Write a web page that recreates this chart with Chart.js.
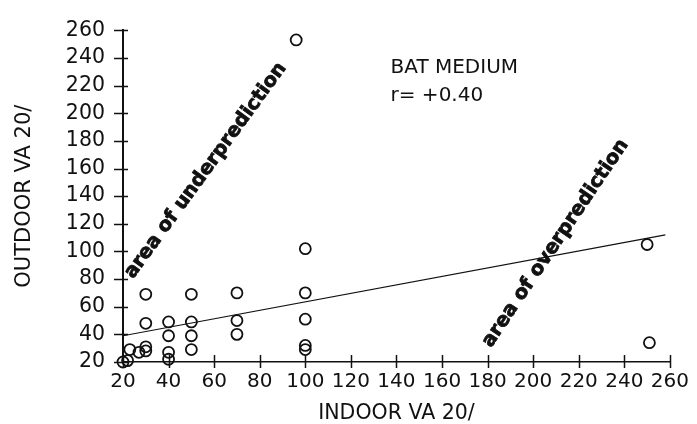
<!DOCTYPE html>
<html>
<head>
<meta charset="utf-8">
<script src="https://cdn.jsdelivr.net/npm/chart.js@4/dist/chart.umd.min.js"></script>
<style>
  html, body { margin: 0; padding: 0; background: #fff; }
  #wrap { width: 697px; height: 424px; position: relative; }
</style>
</head>
<body>
<div id="wrap"><canvas id="c"></canvas></div>
<script>
// Indoor vs outdoor VA 20/ readings (BAT medium)
const indoorVA  = [20, 22, 23, 27, 30, 30, 30, 30, 40, 40, 40, 40, 50, 50, 50, 50, 70, 70, 70, 96, 100, 100, 100, 100, 100, 250, 251];
const outdoorVA = [20, 21, 29, 27, 28, 31, 48, 69, 22, 27, 39, 49, 29, 39, 49, 69, 40, 50, 70, 253, 29, 32, 51, 70, 102, 105, 34];

// Least-squares line end points
const fitIndoor  = [20, 258];
const fitOutdoor = [39, 112];

// Axis tick values (both axes)
const axisTicks = [20, 40, 60, 80, 100, 120, 140, 160, 180, 200, 220, 240, 260];

const xTitle = 'INDOOR VA 20/';
const yTitle = 'OUTDOOR VA 20/';
const panelTitle = 'BAT MEDIUM';
const corrText = 'r= +0.40';
const underText = 'area of underprediction';
const overText = 'area of overprediction';

const FONT = '"DejaVu Sans", sans-serif';
const INK = '#111';

const points = indoorVA.map((x, i) => ({ x, y: outdoorVA[i] }));
const fitLine = fitIndoor.map((x, i) => ({ x, y: fitOutdoor[i] }));

// Tick marks that cross the axis lines
const crossTicks = {
  id: 'crossTicks',
  afterDraw(chart) {
    const { ctx, chartArea: a, scales: { x, y } } = chart;
    ctx.save();
    ctx.strokeStyle = INK;
    ctx.lineWidth = 1.5;
    ctx.beginPath();
    axisTicks.forEach(v => {
      const py = Math.round(y.getPixelForValue(v)) + 0.5;
      ctx.moveTo(a.left - 9, py); ctx.lineTo(a.left + 5, py);
      const px = Math.round(x.getPixelForValue(v)) + 0.5;
      ctx.moveTo(px, a.bottom - 7); ctx.lineTo(px, a.bottom + 6);
    });
    ctx.stroke();
    ctx.restore();
  }
};

// Text notes inside the plot
const notes = {
  id: 'notes',
  afterDatasetsDraw(chart) {
    const { ctx, scales: { x, y } } = chart;
    ctx.save();
    ctx.fillStyle = INK;
    ctx.strokeStyle = INK;

    ctx.font = '20px ' + FONT;
    ctx.textAlign = 'left';
    ctx.textBaseline = 'alphabetic';
    ctx.fillText(panelTitle, x.getPixelForValue(137.4), y.getPixelForValue(229));
    ctx.fillText(corrText, x.getPixelForValue(137.4), y.getPixelForValue(208.8));

    ctx.font = 'bold 19.5px ' + FONT;
    ctx.textAlign = 'center';
    ctx.textBaseline = 'middle';
    ctx.lineWidth = 0.8;
    const rotated = [
      { text: underText, vx: 56.3, vy: 158.5, deg: 54 },
      { text: overText,  vx: 209.8, vy: 105.8, deg: 56 }
    ];
    rotated.forEach(n => {
      ctx.save();
      ctx.translate(x.getPixelForValue(n.vx), y.getPixelForValue(n.vy));
      ctx.rotate(-n.deg * Math.PI / 180);
      ctx.fillText(n.text, 0, 0);
      ctx.strokeText(n.text, 0, 0);
      ctx.restore();
    });
    ctx.restore();
  }
};

function axisConfig(pos, title, titleFont, titlePad, tickPad, borderWidth, fitSize) {
  return {
    type: 'linear',
    position: pos,
    min: 20,
    max: 260,
    afterBuildTicks(scale) { scale.ticks = axisTicks.map(v => ({ value: v })); },
    afterFit(scale) {
      if (pos === 'left') scale.width = fitSize; else scale.height = fitSize;
    },
    grid: { display: false, drawTicks: false },
    border: { display: true, color: INK, width: borderWidth },
    ticks: {
      autoSkip: false,
      maxRotation: 0,
      padding: tickPad,
      color: INK,
      font: { family: FONT, size: pos === 'left' ? 20.5 : 20 }
    },
    title: {
      display: true,
      text: title,
      color: INK,
      font: { family: FONT, size: titleFont, lineHeight: 1 },
      padding: titlePad
    }
  };
}

new Chart(document.getElementById('c'), {
  type: 'scatter',
  data: {
    datasets: [
      {
        data: points,
        showLine: false,
        clip: false,
        pointStyle: 'circle',
        pointRadius: 5.5,
        pointHoverRadius: 5.5,
        borderColor: INK,
        borderWidth: 1.8,
        backgroundColor: 'rgba(0,0,0,0)'
      },
      {
        type: 'line',
        data: fitLine,
        borderColor: INK,
        borderWidth: 1.2,
        pointRadius: 0,
        fill: false,
        tension: 0
      }
    ]
  },
  options: {
    responsive: true,
    maintainAspectRatio: false,
    animation: false,
    devicePixelRatio: 1,
    layout: { padding: { top: 20, right: 22, left: 0, bottom: 0 } },
    plugins: { legend: { display: false }, tooltip: { enabled: false } },
    scales: {
      x: axisConfig('bottom', xTitle, 20.5, { top: 0, bottom: 0 }, 8, 1.5, 62),
      y: axisConfig('left', yTitle, 21, { top: 14, bottom: 0 }, 18, 2, 123)
    }
  },
  plugins: [crossTicks, notes]
});
</script>
</body>
</html>
